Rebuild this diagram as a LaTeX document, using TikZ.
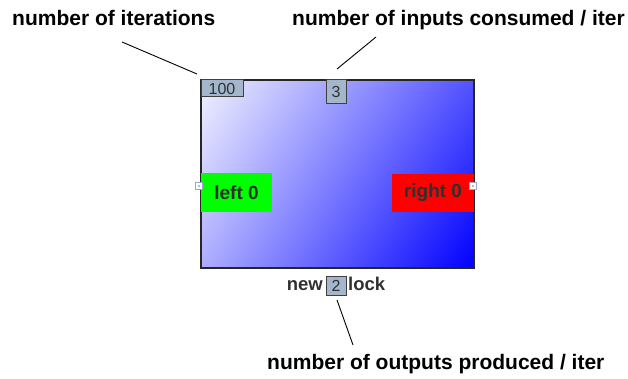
\documentclass[tikz,border=0pt]{standalone}
\usepackage{fontspec}
\setmainfont{Liberation Sans}
\usetikzlibrary{shadings}
\definecolor{tl}{RGB}{242,242,255}
\definecolor{tr}{RGB}{82,82,255}
\definecolor{bl}{RGB}{173,173,255}
\definecolor{br}{RGB}{0,0,255}
\definecolor{boxfill}{RGB}{163,182,204}
\definecolor{txtgray}{RGB}{48,48,48}
\definecolor{portcol}{RGB}{150,170,200}
\tikzset{
  lab/.style={anchor=base west, inner sep=0pt, font=\fontsize{21}{25}\selectfont\bfseries, text=black},
  numbox/.style={draw=black!75, line width=1pt, fill=boxfill, inner sep=0pt, font=\fontsize{16}{19}\selectfont, text=txtgray},
  portbox/.style={draw=txtgray, fill=#1, inner sep=0pt, font=\fontsize{19}{23}\selectfont\bfseries, text=txtgray},
  port/.style={draw=portcol, fill=white, line width=0.8pt, minimum size=7pt, inner sep=0pt},
  conn/.style={draw=black, line width=0.9pt},
  inner/.style={inner sep=0pt, font=\fontsize{18.5}{22}\selectfont\bfseries, text=txtgray}
}
\begin{document}
\begin{tikzpicture}[x=1pt,y=-1pt]
\useasboundingbox (0,0) rectangle (628,379);
% main block
\node[shade, upper left=tl, upper right=tr, lower left=bl, lower right=br,
      draw=black!85, line width=1.4pt, minimum width=273pt, minimum height=188pt, inner sep=0pt]
  (main) at (337.5,174) {};
% parameter boxes
\node[numbox, minimum width=42pt, minimum height=17pt] (iters) at (222,88.5) {100};
\node[numbox, minimum width=20pt, minimum height=24pt] (incons) at (336,92) {3};
% ports
\node[portbox=green, draw=none, minimum width=71pt, minimum height=39pt] (left) at (236.5,192.5) {left 0};
\node[portbox=red, draw=none, minimum width=82pt, minimum height=38pt] (right) at (433,193) {right 0};
\node[port] (lport) at (199,186) {};
\node[port] (rport) at (473,186) {};
\fill[portcol] (lport.center) circle (1.2pt);
\fill[portcol] (rport.center) circle (1.2pt);
% output box
\node[numbox, minimum width=20pt, minimum height=19pt] (outprod) at (336,285.5) {2};
\node[inner, anchor=base east] (newtxt) at (323,290) {new};
\node[inner, anchor=base west] (locktxt) at (348,290) {lock};
% labels
\node[lab] (lab1) at (12,26) {number of iterations};
\node[lab] (lab2) at (292,26) {number of inputs consumed / iter};
\node[lab] (lab3) at (267,369) {number of outputs produced / iter};
% connectors
\coordinate (c1a) at (122,42);
\coordinate (c1b) at (197,74);
\coordinate (c2a) at (376,37);
\coordinate (c2b) at (337,69);
\coordinate (c3a) at (337,300);
\coordinate (c3b) at (353,345);
\draw[conn] (c1a) -- (c1b);
\draw[conn] (c2a) -- (c2b);
\draw[conn] (c3a) -- (c3b);
\end{tikzpicture}
\end{document}
